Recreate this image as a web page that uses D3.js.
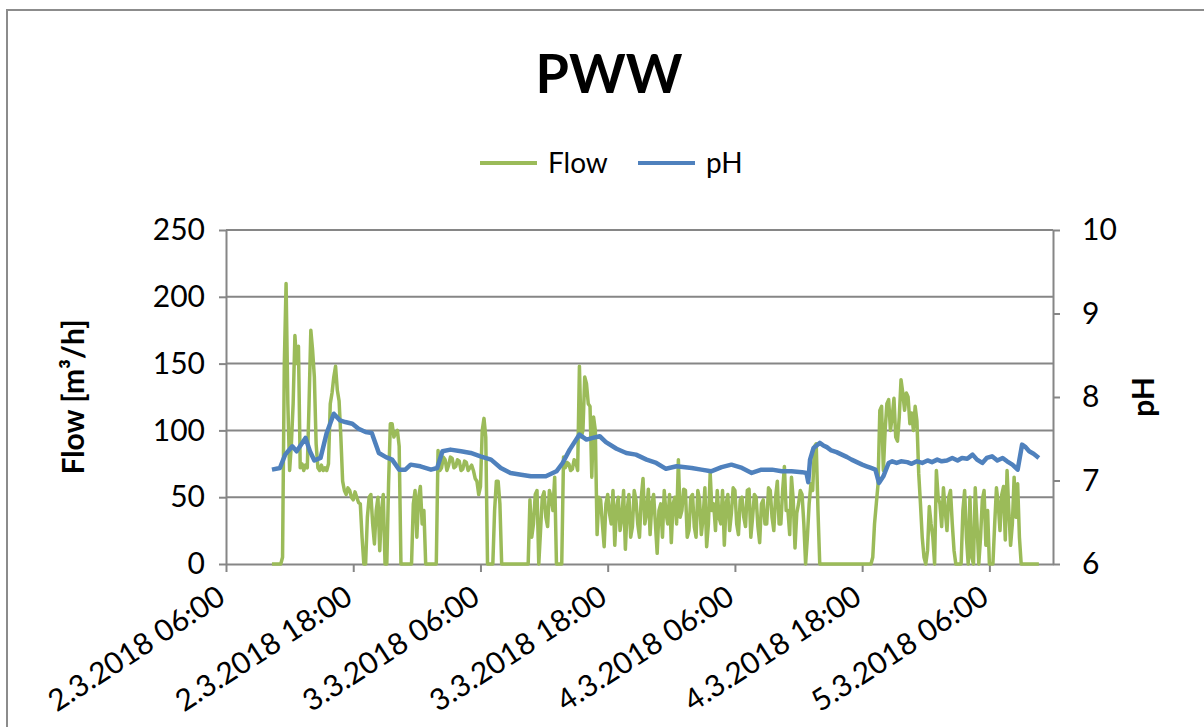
<!DOCTYPE html>
<html>
<head>
<meta charset="utf-8">
<script src="https://cdn.jsdelivr.net/npm/d3@7"></script>
<style>
  body { margin: 0; background: #fff; }
  text { font-family: Lato, "Open Sans", sans-serif; fill: #000; }
</style>
</head>
<body>
<div id="chart"></div>
<script>
// flow readings, one every 10 minutes from flowStart
var flowStart = "2018-03-02 10:20";
var flowStepMinutes = 10;
var flowValues = [
  0, 0, 0, 0, 0, 0, 5, 150, 210, 120,
  70, 90, 120, 171, 150, 163, 72, 75, 70, 74,
  72, 120, 175, 160, 140, 90, 72, 70, 74, 70,
  72, 70, 75, 120, 128, 140, 148, 130, 122, 95,
  62, 55, 52, 57, 55, 50, 48, 54, 50, 46,
  45, 20, 0, 0, 35, 50, 52, 30, 15, 40,
  50, 10, 40, 52, 0, 0, 60, 105, 105, 95,
  98, 100, 88, 0, 0, 0, 0, 0, 0, 0,
  45, 55, 20, 50, 58, 30, 40, 0, 0, 0,
  0, 0, 0, 0, 85, 70, 72, 80, 78, 70,
  74, 80, 79, 72, 73, 78, 77, 70, 71, 77,
  76, 70, 72, 74, 70, 64, 62, 52, 58, 100,
  109, 95, 0, 0, 0, 0, 40, 62, 62, 45,
  0, 0, 0, 0, 0, 0, 0, 0, 0, 0,
  0, 0, 0, 0, 0, 0, 48, 20, 30, 52,
  55, 0, 25, 50, 54, 35, 28, 55, 50, 40,
  65, 0, 0, 0, 0, 80, 72, 76, 75, 70,
  71, 78, 76, 70, 148, 95, 100, 140, 135, 120,
  118, 65, 110, 100,
  22, 50, 48, 30, 13, 45, 52, 38, 30, 55,
  14, 42, 50, 25, 35, 55, 11, 40, 52, 20,
  28, 55, 48, 30, 20, 50, 64, 30, 38, 56,
  22, 45, 52, 30, 8, 40, 45, 20, 55, 38,
  30, 52, 16, 45, 50, 30, 78, 35, 40, 56,
  55, 20, 25, 50, 52, 28, 20, 55, 48, 22,
  35, 57, 13, 30, 68, 40, 45, 25, 55, 35,
  30, 55, 14, 45, 52, 25, 38, 57, 55, 30,
  22, 48, 50, 35, 28, 55, 56, 20, 35, 52,
  50, 28, 16, 45, 48, 30, 30, 57, 55, 35,
  25, 50, 62, 30, 30, 55, 73, 40, 40, 22,
  65, 48, 12, 38, 45, 55, 52, 30,
  0, 20, 45, 60, 55, 88, 90, 40, 0, 0,
  0, 0, 0, 0, 0, 0, 0, 0, 0, 0,
  0, 0, 0, 0, 0, 0, 0, 0, 0, 0,
  0, 0, 0, 0, 0, 0, 0, 0,
  5, 30, 45, 60, 115, 118, 70, 100, 120, 123,
  100, 110, 124, 95, 92, 110, 138, 128, 115, 128,
  125, 105, 113, 100, 118, 107, 68, 45, 20, 5,
  0, 10, 43, 30, 20, 0, 70, 50, 45, 28,
  57, 40, 25, 50, 55, 30, 10, 0, 0, 0,
  0, 40, 55, 20, 0, 50, 5, 0, 57, 30,
  0, 20, 48, 55, 14, 40, 0, 0, 0, 30,
  57, 45, 25, 52, 58, 18, 70, 40, 14, 30,
  65, 35, 60, 20,
  0, 0, 0, 0, 0, 0, 0, 0, 0, 0,
  0
];

var phTimes = [
  "2018-03-02 10:20", "2018-03-02 11:05", "2018-03-02 11:35", "2018-03-02 12:15",
  "2018-03-02 12:40", "2018-03-02 13:30", "2018-03-02 13:55", "2018-03-02 14:20",
  "2018-03-02 14:55", "2018-03-02 15:30", "2018-03-02 16:10", "2018-03-02 16:45",
  "2018-03-02 17:15", "2018-03-02 17:55", "2018-03-02 18:30", "2018-03-02 19:10",
  "2018-03-02 19:45", "2018-03-02 20:25", "2018-03-02 21:05", "2018-03-02 21:40",
  "2018-03-02 22:20", "2018-03-02 22:55", "2018-03-02 23:25", "2018-03-03 00:20",
  "2018-03-03 01:20", "2018-03-03 01:55", "2018-03-03 02:25", "2018-03-03 03:10",
  "2018-03-03 04:10", "2018-03-03 05:05", "2018-03-03 06:00", "2018-03-03 07:00",
  "2018-03-03 07:55", "2018-03-03 08:50", "2018-03-03 09:50", "2018-03-03 10:45",
  "2018-03-03 12:10", "2018-03-03 13:10", "2018-03-03 13:45", "2018-03-03 14:25",
  "2018-03-03 15:20", "2018-03-03 16:00", "2018-03-03 16:35", "2018-03-03 17:15",
  "2018-03-03 17:50", "2018-03-03 18:50", "2018-03-03 19:45", "2018-03-03 20:40",
  "2018-03-03 21:40", "2018-03-03 22:35", "2018-03-03 23:30", "2018-03-04 00:30",
  "2018-03-04 01:55", "2018-03-04 02:50", "2018-03-04 03:45", "2018-03-04 04:45",
  "2018-03-04 05:40", "2018-03-04 06:40", "2018-03-04 07:35", "2018-03-04 08:30",
  "2018-03-04 09:30", "2018-03-04 10:25", "2018-03-04 11:20", "2018-03-04 12:20",
  "2018-03-04 12:45", "2018-03-04 12:55", "2018-03-04 13:05", "2018-03-04 13:25",
  "2018-03-04 14:00", "2018-03-04 14:20", "2018-03-04 14:40", "2018-03-04 15:05",
  "2018-03-04 15:35", "2018-03-04 16:05", "2018-03-04 16:35", "2018-03-04 17:00",
  "2018-03-04 17:30", "2018-03-04 18:00", "2018-03-04 18:25", "2018-03-04 18:50",
  "2018-03-04 19:15", "2018-03-04 19:35", "2018-03-04 20:00", "2018-03-04 20:30",
  "2018-03-04 20:50", "2018-03-04 21:15", "2018-03-04 21:40", "2018-03-04 22:15",
  "2018-03-04 22:40", "2018-03-04 23:10", "2018-03-04 23:40", "2018-03-05 00:10",
  "2018-03-05 00:35", "2018-03-05 01:05", "2018-03-05 01:30", "2018-03-05 02:00",
  "2018-03-05 02:30", "2018-03-05 03:00", "2018-03-05 03:25", "2018-03-05 03:55",
  "2018-03-05 04:25", "2018-03-05 04:50", "2018-03-05 05:20", "2018-03-05 05:45",
  "2018-03-05 06:15", "2018-03-05 06:45", "2018-03-05 07:15", "2018-03-05 07:40",
  "2018-03-05 08:10", "2018-03-05 08:40", "2018-03-05 09:05", "2018-03-05 09:25",
  "2018-03-05 09:45", "2018-03-05 10:10", "2018-03-05 10:40"
];
var phValues = [
  7.13, 7.15, 7.31, 7.41, 7.35, 7.51, 7.35, 7.24, 7.27, 7.57, 7.80, 7.72,
  7.70, 7.68, 7.62, 7.58, 7.57, 7.33, 7.28, 7.25, 7.13, 7.13, 7.19, 7.17,
  7.13, 7.15, 7.35, 7.37, 7.35, 7.33, 7.29, 7.25, 7.15, 7.09, 7.07, 7.05,
  7.05, 7.11, 7.21, 7.37, 7.55, 7.49, 7.51, 7.53, 7.46, 7.38, 7.33, 7.31,
  7.25, 7.21, 7.14, 7.17, 7.15, 7.13, 7.11, 7.16, 7.19, 7.15, 7.09, 7.13,
  7.13, 7.11, 7.11, 7.10, 7.09, 6.98, 7.25, 7.39, 7.45, 7.42, 7.40, 7.36,
  7.34, 7.31, 7.28, 7.25, 7.22, 7.19, 7.17, 7.15, 7.13, 6.97, 7.05, 7.21,
  7.23, 7.21, 7.23, 7.22, 7.20, 7.23, 7.21, 7.24, 7.22, 7.25, 7.23, 7.24,
  7.27, 7.24, 7.27, 7.26, 7.31, 7.25, 7.21, 7.27, 7.29, 7.24, 7.27, 7.23,
  7.19, 7.13, 7.43, 7.40, 7.35, 7.32, 7.27
];

var xTicks = ["2018-03-02 06:00", "2018-03-02 18:00", "2018-03-03 06:00", "2018-03-03 18:00",
              "2018-03-04 06:00", "2018-03-04 18:00", "2018-03-05 06:00"];
var xDomain = ["2018-03-02 06:00", "2018-03-05 12:00"];
var flowTicks = [0, 50, 100, 150, 200, 250];
var phTicks = [6, 7, 8, 9, 10];

var width = 1204, height = 727;
var margin = {top: 230, right: 151, bottom: 163, left: 226};
var plotW = width - margin.left - margin.right,
    plotH = height - margin.top - margin.bottom;

var parse = d3.timeParse("%Y-%m-%d %H:%M");
var t0 = parse(flowStart);
var flow = flowValues.map(function(v, i) {
  return { t: d3.timeMinute.offset(t0, i * flowStepMinutes), v: v };
});
var ph = phTimes.map(function(s, i) { return { t: parse(s), v: phValues[i] }; });

var svg = d3.select("#chart").append("svg")
  .attr("width", width).attr("height", height);

svg.append("rect").attr("width", width).attr("height", height).attr("fill", "#fff");
// chart border
svg.append("rect")
  .attr("x", 7).attr("y", 10).attr("width", 1220).attr("height", 740)
  .attr("fill", "none").attr("stroke", "#8c8c8c").attr("stroke-width", 2);

var g = svg.append("g")
  .attr("transform", "translate(" + margin.left + "," + margin.top + ")");

var x = d3.scaleTime().domain(xDomain.map(parse)).range([0, plotW]);
var yL = d3.scaleLinear().domain([0, 250]).range([plotH, 0]);
var yR = d3.scaleLinear().domain([6, 10]).range([plotH, 0]);

// gridlines
g.append("g").selectAll("line").data(flowTicks.slice(1)).enter().append("line")
  .attr("x1", 0).attr("x2", plotW)
  .attr("y1", function(d) { return yL(d); }).attr("y2", function(d) { return yL(d); })
  .attr("stroke", "#868686").attr("stroke-width", 2);

function styleAxis(sel) {
  sel.selectAll("path, line").attr("stroke", "#868686").attr("stroke-width", 2);
  sel.selectAll("text").attr("fill", "#000").style("font-family", "Lato, sans-serif");
}

// left axis
var axL = g.append("g")
  .call(d3.axisLeft(yL).tickValues(flowTicks).tickSize(7).tickSizeOuter(0).tickPadding(14));
styleAxis(axL);
axL.selectAll("text").style("font-size", "30px");

// right axis
var axR = g.append("g").attr("transform", "translate(" + plotW + ",0)")
  .call(d3.axisRight(yR).tickValues(phTicks).tickSize(7).tickSizeOuter(0).tickPadding(22)
    .tickFormat(d3.format("d")));
styleAxis(axR);
axR.selectAll("text").style("font-size", "30px");

// bottom axis
var axB = g.append("g").attr("transform", "translate(0," + plotH + ")")
  .call(d3.axisBottom(x).tickValues(xTicks.map(parse)).tickSize(8).tickSizeOuter(0)
    .tickFormat(d3.timeFormat("%-d.%-m.%Y %H:%M")));
styleAxis(axB);
axB.selectAll("text")
  .style("font-size", "30px")
  .attr("text-anchor", "end")
  .attr("dy", "0.35em")
  .attr("transform", "translate(-5,29) rotate(-33)")
  .attr("y", 0).attr("x", 0);

// series
var flowLine = d3.line().x(function(d) { return x(d.t); }).y(function(d) { return yL(d.v); });
var phLine = d3.line().x(function(d) { return x(d.t); }).y(function(d) { return yR(d.v); });

g.append("path").datum(flow)
  .attr("fill", "none").attr("stroke", "#9bbb59").attr("stroke-width", 3.5)
  .attr("stroke-linejoin", "round").attr("d", flowLine);

g.append("path").datum(ph)
  .attr("fill", "none").attr("stroke", "#4f81bd").attr("stroke-width", 4.5)
  .attr("stroke-linejoin", "round").attr("d", phLine);

// title
svg.append("text").attr("x", 609).attr("y", 93).attr("text-anchor", "middle")
  .style("font-size", "54px").style("font-weight", "bold").text("PWW");

// legend
var legend = [{name: "Flow", color: "#9bbb59", x: 480}, {name: "pH", color: "#4f81bd", x: 638}];
var lg = svg.append("g").selectAll("g").data(legend).enter().append("g");
lg.append("line")
  .attr("x1", function(d) { return d.x; }).attr("x2", function(d) { return d.x + 57; })
  .attr("y1", 163).attr("y2", 163)
  .attr("stroke", function(d) { return d.color; }).attr("stroke-width", 4);
lg.append("text")
  .attr("x", function(d) { return d.x + 68; }).attr("y", 173)
  .style("font-size", "28px").text(function(d) { return d.name; });

// axis titles
svg.append("text")
  .attr("transform", "translate(84," + (margin.top + plotH / 2) + ") rotate(-90)")
  .attr("text-anchor", "middle").style("font-size", "30px").style("font-weight", "bold")
  .text("Flow [m³/h]");
svg.append("text")
  .attr("transform", "translate(1154," + (margin.top + plotH / 2) + ") rotate(-90)")
  .attr("text-anchor", "middle").style("font-size", "30px").style("font-weight", "bold")
  .text("pH");
</script>
</body>
</html>
